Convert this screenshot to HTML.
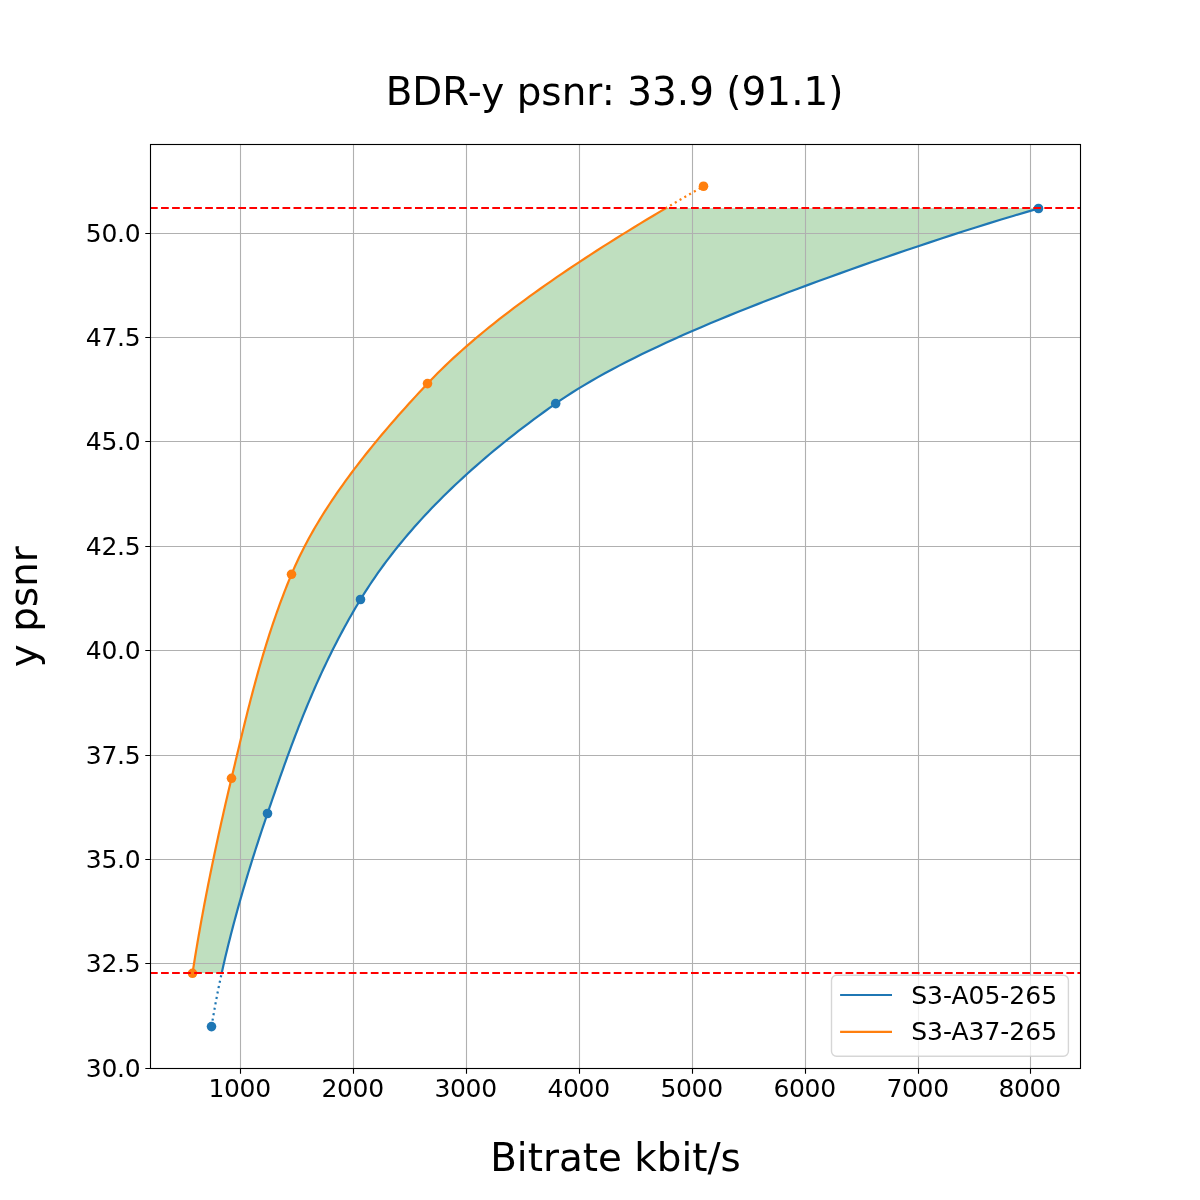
<!DOCTYPE html>
<html lang="en"><head><meta charset="utf-8"><title>BDR-y psnr</title>
<style>html,body{margin:0;padding:0;background:#fff}body{width:1200px;height:1200px;overflow:hidden}svg{display:block}text{font-family:"DejaVu Sans","Liberation Sans",sans-serif;fill:#000}</style></head><body>
<svg width="1200" height="1200" viewBox="0 0 1200 1200">
<rect width="1200" height="1200" fill="#fff"/>
<path d="M192.55 973.00 L193.14 969.16 L193.75 965.31 L194.36 961.47 L194.98 957.62 L195.61 953.78 L196.25 949.93 L196.89 946.09 L197.54 942.25 L198.20 938.40 L198.87 934.56 L199.55 930.71 L200.23 926.87 L200.92 923.03 L201.61 919.18 L202.32 915.34 L203.03 911.49 L203.75 907.65 L204.47 903.80 L205.21 899.96 L205.94 896.12 L206.69 892.27 L207.44 888.43 L208.20 884.58 L208.97 880.74 L209.74 876.89 L210.52 873.05 L211.30 869.21 L212.09 865.36 L212.89 861.52 L213.69 857.67 L214.50 853.83 L215.31 849.98 L216.13 846.14 L216.96 842.30 L217.79 838.45 L218.63 834.61 L219.47 830.76 L220.32 826.92 L221.18 823.08 L222.04 819.23 L222.90 815.39 L223.77 811.54 L224.65 807.70 L225.53 803.85 L226.41 800.01 L227.30 796.17 L228.20 792.32 L229.10 788.48 L230.00 784.63 L230.91 780.79 L231.82 776.94 L232.73 773.10 L233.65 769.26 L234.56 765.41 L235.47 761.57 L236.38 757.72 L237.30 753.88 L238.21 750.04 L239.13 746.19 L240.05 742.35 L240.97 738.50 L241.90 734.66 L242.84 730.81 L243.78 726.97 L244.72 723.13 L245.67 719.28 L246.63 715.44 L247.59 711.59 L248.56 707.75 L249.55 703.90 L250.54 700.06 L251.54 696.22 L252.55 692.37 L253.57 688.53 L254.60 684.68 L255.64 680.84 L256.70 676.99 L257.77 673.15 L258.85 669.31 L259.95 665.46 L261.06 661.62 L262.19 657.77 L263.33 653.93 L264.49 650.09 L265.67 646.24 L266.86 642.40 L268.07 638.55 L269.30 634.71 L270.55 630.86 L271.82 627.02 L273.11 623.18 L274.42 619.33 L275.75 615.49 L277.10 611.64 L278.48 607.80 L279.88 603.95 L281.30 600.11 L282.75 596.27 L284.22 592.42 L285.71 588.58 L287.23 584.73 L288.78 580.89 L290.36 577.05 L291.96 573.20 L293.61 569.36 L295.32 565.51 L297.08 561.67 L298.90 557.82 L300.77 553.98 L302.69 550.14 L304.66 546.29 L306.68 542.45 L308.76 538.60 L310.88 534.76 L313.06 530.91 L315.28 527.07 L317.55 523.23 L319.87 519.38 L322.24 515.54 L324.65 511.69 L327.11 507.85 L329.61 504.01 L332.16 500.16 L334.76 496.32 L337.39 492.47 L340.07 488.63 L342.79 484.78 L345.55 480.94 L348.36 477.10 L351.20 473.25 L354.08 469.41 L357.01 465.56 L359.97 461.72 L362.97 457.87 L366.00 454.03 L369.07 450.19 L372.18 446.34 L375.33 442.50 L378.51 438.65 L381.72 434.81 L384.97 430.96 L388.25 427.12 L391.56 423.28 L394.91 419.43 L398.28 415.59 L401.69 411.74 L405.12 407.90 L408.59 404.06 L412.08 400.21 L415.61 396.37 L419.16 392.52 L422.73 388.68 L426.34 384.83 L429.98 380.99 L433.70 377.15 L437.51 373.30 L441.40 369.46 L445.37 365.61 L449.41 361.77 L453.54 357.92 L457.75 354.08 L462.03 350.24 L466.39 346.39 L470.82 342.55 L475.33 338.70 L479.91 334.86 L484.57 331.02 L489.29 327.17 L494.09 323.33 L498.95 319.48 L503.89 315.64 L508.89 311.79 L513.96 307.95 L519.09 304.11 L524.29 300.26 L529.55 296.42 L534.88 292.57 L540.27 288.73 L545.72 284.88 L551.23 281.04 L556.80 277.20 L562.43 273.35 L568.11 269.51 L573.85 265.66 L579.65 261.82 L585.50 257.97 L591.40 254.13 L597.36 250.29 L603.37 246.44 L609.43 242.60 L615.54 238.75 L621.70 234.91 L627.91 231.07 L634.16 227.22 L640.46 223.38 L646.81 219.53 L653.20 215.69 L659.63 211.84 L666.11 208.00 L1040.11 208.00 L1026.90 211.84 L1013.89 215.69 L1001.17 219.53 L988.69 223.38 L976.42 227.22 L964.34 231.07 L952.42 234.91 L940.65 238.75 L929.01 242.60 L917.49 246.44 L906.08 250.29 L894.78 254.13 L883.59 257.97 L872.51 261.82 L861.52 265.66 L850.64 269.51 L839.86 273.35 L829.19 277.20 L818.63 281.04 L808.17 284.88 L797.83 288.73 L787.60 292.57 L777.49 296.42 L767.50 300.26 L757.63 304.11 L747.89 307.95 L738.28 311.79 L728.81 315.64 L719.47 319.48 L710.27 323.33 L701.21 327.17 L692.30 331.02 L683.54 334.86 L674.94 338.70 L666.48 342.55 L658.19 346.39 L650.06 350.24 L642.10 354.08 L634.31 357.92 L626.68 361.77 L619.23 365.61 L611.96 369.46 L604.87 373.30 L597.97 377.15 L591.25 380.99 L584.72 384.83 L578.38 388.68 L572.24 392.52 L566.30 396.37 L560.56 400.21 L555.02 404.06 L549.60 407.90 L544.25 411.74 L538.98 415.59 L533.76 419.43 L528.62 423.28 L523.55 427.12 L518.54 430.96 L513.60 434.81 L508.73 438.65 L503.92 442.50 L499.18 446.34 L494.50 450.19 L489.89 454.03 L485.35 457.87 L480.87 461.72 L476.46 465.56 L472.11 469.41 L467.82 473.25 L463.60 477.10 L459.44 480.94 L455.34 484.78 L451.31 488.63 L447.34 492.47 L443.43 496.32 L439.58 500.16 L435.79 504.01 L432.07 507.85 L428.40 511.69 L424.80 515.54 L421.26 519.38 L417.77 523.23 L414.35 527.07 L410.98 530.91 L407.67 534.76 L404.42 538.60 L401.23 542.45 L398.10 546.29 L395.03 550.14 L392.01 553.98 L389.05 557.82 L386.14 561.67 L383.29 565.51 L380.50 569.36 L377.76 573.20 L375.08 577.05 L372.45 580.89 L369.88 584.73 L367.36 588.58 L364.90 592.42 L362.49 596.27 L360.13 600.11 L357.81 603.95 L355.53 607.80 L353.28 611.64 L351.07 615.49 L348.88 619.33 L346.74 623.18 L344.62 627.02 L342.53 630.86 L340.47 634.71 L338.45 638.55 L336.45 642.40 L334.48 646.24 L332.54 650.09 L330.62 653.93 L328.74 657.77 L326.88 661.62 L325.04 665.46 L323.23 669.31 L321.44 673.15 L319.68 676.99 L317.94 680.84 L316.22 684.68 L314.53 688.53 L312.86 692.37 L311.20 696.22 L309.57 700.06 L307.95 703.90 L306.36 707.75 L304.78 711.59 L303.22 715.44 L301.68 719.28 L300.16 723.13 L298.64 726.97 L297.15 730.81 L295.67 734.66 L294.20 738.50 L292.75 742.35 L291.31 746.19 L289.88 750.04 L288.46 753.88 L287.06 757.72 L285.66 761.57 L284.27 765.41 L282.90 769.26 L281.53 773.10 L280.17 776.94 L278.81 780.79 L277.47 784.63 L276.13 788.48 L274.79 792.32 L273.46 796.17 L272.13 800.01 L270.81 803.85 L269.49 807.70 L268.17 811.54 L266.85 815.39 L265.55 819.23 L264.25 823.08 L262.96 826.92 L261.67 830.76 L260.40 834.61 L259.14 838.45 L257.88 842.30 L256.64 846.14 L255.40 849.98 L254.18 853.83 L252.96 857.67 L251.75 861.52 L250.56 865.36 L249.37 869.21 L248.19 873.05 L247.03 876.89 L245.87 880.74 L244.73 884.58 L243.59 888.43 L242.47 892.27 L241.36 896.12 L240.26 899.96 L239.17 903.80 L238.10 907.65 L237.03 911.49 L235.98 915.34 L234.94 919.18 L233.91 923.03 L232.89 926.87 L231.89 930.71 L230.90 934.56 L229.92 938.40 L228.95 942.25 L228.00 946.09 L227.06 949.93 L226.13 953.78 L225.22 957.62 L224.32 961.47 L223.43 965.31 L222.56 969.16 L221.70 973.00 Z" fill="#008000" fill-opacity="0.25"/>
<path d="M240.5 144.5V1068.5M353.5 144.5V1068.5M466.5 144.5V1068.5M579.5 144.5V1068.5M692.5 144.5V1068.5M805.5 144.5V1068.5M918.5 144.5V1068.5M1030.5 144.5V1068.5M150.5 233.5H1080.5M150.5 337.5H1080.5M150.5 441.5H1080.5M150.5 546.5H1080.5M150.5 650.5H1080.5M150.5 755.5H1080.5M150.5 859.5H1080.5M150.5 963.5H1080.5M150.5 1068.5H1080.5" stroke="#b0b0b0" stroke-width="1.11" fill="none"/>
<path d="M211.50 1026.60 L211.81 1024.75 L212.12 1022.90 L212.43 1021.06 L212.75 1019.21 L213.06 1017.36 L213.38 1015.51 L213.71 1013.66 L214.03 1011.81 L214.36 1009.97 L214.69 1008.12 L215.03 1006.27 L215.37 1004.42 L215.71 1002.57 L216.05 1000.72 L216.40 998.88 L216.75 997.03 L217.11 995.18 L217.47 993.33 L217.83 991.48 L218.20 989.63 L218.57 987.79 L218.95 985.94 L219.33 984.09 L219.71 982.24 L220.10 980.39 L220.49 978.54 L220.89 976.70 L221.29 974.85 L221.70 973.00" stroke="#1f77b4" stroke-width="2.2" fill="none" stroke-dasharray="2.083 3.437" stroke-dashoffset="-0.5"/>
<path d="M221.70 973.00 L222.56 969.16 L223.43 965.31 L224.32 961.47 L225.22 957.62 L226.13 953.78 L227.06 949.93 L228.00 946.09 L228.95 942.25 L229.92 938.40 L230.90 934.56 L231.89 930.71 L232.89 926.87 L233.91 923.03 L234.94 919.18 L235.98 915.34 L237.03 911.49 L238.10 907.65 L239.17 903.80 L240.26 899.96 L241.36 896.12 L242.47 892.27 L243.59 888.43 L244.73 884.58 L245.87 880.74 L247.03 876.89 L248.19 873.05 L249.37 869.21 L250.56 865.36 L251.75 861.52 L252.96 857.67 L254.18 853.83 L255.40 849.98 L256.64 846.14 L257.88 842.30 L259.14 838.45 L260.40 834.61 L261.67 830.76 L262.96 826.92 L264.25 823.08 L265.55 819.23 L266.85 815.39 L268.17 811.54 L269.49 807.70 L270.81 803.85 L272.13 800.01 L273.46 796.17 L274.79 792.32 L276.13 788.48 L277.47 784.63 L278.81 780.79 L280.17 776.94 L281.53 773.10 L282.90 769.26 L284.27 765.41 L285.66 761.57 L287.06 757.72 L288.46 753.88 L289.88 750.04 L291.31 746.19 L292.75 742.35 L294.20 738.50 L295.67 734.66 L297.15 730.81 L298.64 726.97 L300.16 723.13 L301.68 719.28 L303.22 715.44 L304.78 711.59 L306.36 707.75 L307.95 703.90 L309.57 700.06 L311.20 696.22 L312.86 692.37 L314.53 688.53 L316.22 684.68 L317.94 680.84 L319.68 676.99 L321.44 673.15 L323.23 669.31 L325.04 665.46 L326.88 661.62 L328.74 657.77 L330.62 653.93 L332.54 650.09 L334.48 646.24 L336.45 642.40 L338.45 638.55 L340.47 634.71 L342.53 630.86 L344.62 627.02 L346.74 623.18 L348.88 619.33 L351.07 615.49 L353.28 611.64 L355.53 607.80 L357.81 603.95 L360.13 600.11 L362.49 596.27 L364.90 592.42 L367.36 588.58 L369.88 584.73 L372.45 580.89 L375.08 577.05 L377.76 573.20 L380.50 569.36 L383.29 565.51 L386.14 561.67 L389.05 557.82 L392.01 553.98 L395.03 550.14 L398.10 546.29 L401.23 542.45 L404.42 538.60 L407.67 534.76 L410.98 530.91 L414.35 527.07 L417.77 523.23 L421.26 519.38 L424.80 515.54 L428.40 511.69 L432.07 507.85 L435.79 504.01 L439.58 500.16 L443.43 496.32 L447.34 492.47 L451.31 488.63 L455.34 484.78 L459.44 480.94 L463.60 477.10 L467.82 473.25 L472.11 469.41 L476.46 465.56 L480.87 461.72 L485.35 457.87 L489.89 454.03 L494.50 450.19 L499.18 446.34 L503.92 442.50 L508.73 438.65 L513.60 434.81 L518.54 430.96 L523.55 427.12 L528.62 423.28 L533.76 419.43 L538.98 415.59 L544.25 411.74 L549.60 407.90 L555.02 404.06 L560.56 400.21 L566.30 396.37 L572.24 392.52 L578.38 388.68 L584.72 384.83 L591.25 380.99 L597.97 377.15 L604.87 373.30 L611.96 369.46 L619.23 365.61 L626.68 361.77 L634.31 357.92 L642.10 354.08 L650.06 350.24 L658.19 346.39 L666.48 342.55 L674.94 338.70 L683.54 334.86 L692.30 331.02 L701.21 327.17 L710.27 323.33 L719.47 319.48 L728.81 315.64 L738.28 311.79 L747.89 307.95 L757.63 304.11 L767.50 300.26 L777.49 296.42 L787.60 292.57 L797.83 288.73 L808.17 284.88 L818.63 281.04 L829.19 277.20 L839.86 273.35 L850.64 269.51 L861.52 265.66 L872.51 261.82 L883.59 257.97 L894.78 254.13 L906.08 250.29 L917.49 246.44 L929.01 242.60 L940.65 238.75 L952.42 234.91 L964.34 231.07 L976.42 227.22 L988.69 223.38 L1001.17 219.53 L1013.89 215.69 L1026.90 211.84 L1040.11 208.00" stroke="#1f77b4" stroke-width="2.2" fill="none" stroke-linecap="square" stroke-linejoin="round"/>
<circle cx="211.5" cy="1026.6" r="4.8" fill="#1f77b4"/>
<circle cx="267.5" cy="813.5" r="4.8" fill="#1f77b4"/>
<circle cx="360.5" cy="599.5" r="4.8" fill="#1f77b4"/>
<circle cx="555.7" cy="403.6" r="4.8" fill="#1f77b4"/>
<circle cx="1038.5" cy="208.5" r="4.8" fill="#1f77b4"/>
<path d="M666.11 208.00 L667.38 207.25 L668.65 206.50 L669.92 205.75 L671.19 205.00 L672.46 204.25 L673.74 203.50 L675.02 202.75 L676.30 202.00 L677.58 201.25 L678.86 200.50 L680.14 199.75 L681.43 199.00 L682.72 198.25 L684.00 197.50 L685.29 196.75 L686.58 196.00 L687.88 195.25 L689.17 194.50 L690.47 193.75 L691.76 193.00 L693.06 192.25 L694.36 191.50 L695.66 190.75 L696.97 190.00 L698.27 189.25 L699.58 188.50 L700.88 187.75 L702.19 187.00 L703.50 186.25" stroke="#ff7f0e" stroke-width="2.2" fill="none" stroke-dasharray="2.083 3.437" stroke-dashoffset="0.9"/>
<path d="M192.55 973.00 L193.14 969.16 L193.75 965.31 L194.36 961.47 L194.98 957.62 L195.61 953.78 L196.25 949.93 L196.89 946.09 L197.54 942.25 L198.20 938.40 L198.87 934.56 L199.55 930.71 L200.23 926.87 L200.92 923.03 L201.61 919.18 L202.32 915.34 L203.03 911.49 L203.75 907.65 L204.47 903.80 L205.21 899.96 L205.94 896.12 L206.69 892.27 L207.44 888.43 L208.20 884.58 L208.97 880.74 L209.74 876.89 L210.52 873.05 L211.30 869.21 L212.09 865.36 L212.89 861.52 L213.69 857.67 L214.50 853.83 L215.31 849.98 L216.13 846.14 L216.96 842.30 L217.79 838.45 L218.63 834.61 L219.47 830.76 L220.32 826.92 L221.18 823.08 L222.04 819.23 L222.90 815.39 L223.77 811.54 L224.65 807.70 L225.53 803.85 L226.41 800.01 L227.30 796.17 L228.20 792.32 L229.10 788.48 L230.00 784.63 L230.91 780.79 L231.82 776.94 L232.73 773.10 L233.65 769.26 L234.56 765.41 L235.47 761.57 L236.38 757.72 L237.30 753.88 L238.21 750.04 L239.13 746.19 L240.05 742.35 L240.97 738.50 L241.90 734.66 L242.84 730.81 L243.78 726.97 L244.72 723.13 L245.67 719.28 L246.63 715.44 L247.59 711.59 L248.56 707.75 L249.55 703.90 L250.54 700.06 L251.54 696.22 L252.55 692.37 L253.57 688.53 L254.60 684.68 L255.64 680.84 L256.70 676.99 L257.77 673.15 L258.85 669.31 L259.95 665.46 L261.06 661.62 L262.19 657.77 L263.33 653.93 L264.49 650.09 L265.67 646.24 L266.86 642.40 L268.07 638.55 L269.30 634.71 L270.55 630.86 L271.82 627.02 L273.11 623.18 L274.42 619.33 L275.75 615.49 L277.10 611.64 L278.48 607.80 L279.88 603.95 L281.30 600.11 L282.75 596.27 L284.22 592.42 L285.71 588.58 L287.23 584.73 L288.78 580.89 L290.36 577.05 L291.96 573.20 L293.61 569.36 L295.32 565.51 L297.08 561.67 L298.90 557.82 L300.77 553.98 L302.69 550.14 L304.66 546.29 L306.68 542.45 L308.76 538.60 L310.88 534.76 L313.06 530.91 L315.28 527.07 L317.55 523.23 L319.87 519.38 L322.24 515.54 L324.65 511.69 L327.11 507.85 L329.61 504.01 L332.16 500.16 L334.76 496.32 L337.39 492.47 L340.07 488.63 L342.79 484.78 L345.55 480.94 L348.36 477.10 L351.20 473.25 L354.08 469.41 L357.01 465.56 L359.97 461.72 L362.97 457.87 L366.00 454.03 L369.07 450.19 L372.18 446.34 L375.33 442.50 L378.51 438.65 L381.72 434.81 L384.97 430.96 L388.25 427.12 L391.56 423.28 L394.91 419.43 L398.28 415.59 L401.69 411.74 L405.12 407.90 L408.59 404.06 L412.08 400.21 L415.61 396.37 L419.16 392.52 L422.73 388.68 L426.34 384.83 L429.98 380.99 L433.70 377.15 L437.51 373.30 L441.40 369.46 L445.37 365.61 L449.41 361.77 L453.54 357.92 L457.75 354.08 L462.03 350.24 L466.39 346.39 L470.82 342.55 L475.33 338.70 L479.91 334.86 L484.57 331.02 L489.29 327.17 L494.09 323.33 L498.95 319.48 L503.89 315.64 L508.89 311.79 L513.96 307.95 L519.09 304.11 L524.29 300.26 L529.55 296.42 L534.88 292.57 L540.27 288.73 L545.72 284.88 L551.23 281.04 L556.80 277.20 L562.43 273.35 L568.11 269.51 L573.85 265.66 L579.65 261.82 L585.50 257.97 L591.40 254.13 L597.36 250.29 L603.37 246.44 L609.43 242.60 L615.54 238.75 L621.70 234.91 L627.91 231.07 L634.16 227.22 L640.46 223.38 L646.81 219.53 L653.20 215.69 L659.63 211.84 L666.11 208.00" stroke="#ff7f0e" stroke-width="2.2" fill="none" stroke-linecap="square" stroke-linejoin="round"/>
<circle cx="192.5" cy="973.3" r="4.8" fill="#ff7f0e"/>
<circle cx="231.5" cy="778.3" r="4.8" fill="#ff7f0e"/>
<circle cx="291.5" cy="574.3" r="4.8" fill="#ff7f0e"/>
<circle cx="427.5" cy="383.6" r="4.8" fill="#ff7f0e"/>
<circle cx="703.5" cy="186.25" r="4.8" fill="#ff7f0e"/>
<path d="M150 973.0H1081" stroke="#ff0000" stroke-width="2.2" stroke-dasharray="7.708 3.333" fill="none"/>
<path d="M150 208.0H1081" stroke="#ff0000" stroke-width="2.2" stroke-dasharray="7.708 3.333" fill="none"/>
<rect x="150.5" y="144.5" width="930.0" height="924.0" fill="none" stroke="#000" stroke-width="1.11"/>
<path d="M240.5 1068.5v5.2M353.5 1068.5v5.2M466.5 1068.5v5.2M579.5 1068.5v5.2M692.5 1068.5v5.2M805.5 1068.5v5.2M918.5 1068.5v5.2M1030.5 1068.5v5.2M150.5 233.5h-5.2M150.5 337.5h-5.2M150.5 441.5h-5.2M150.5 546.5h-5.2M150.5 650.5h-5.2M150.5 755.5h-5.2M150.5 859.5h-5.2M150.5 963.5h-5.2M150.5 1068.5h-5.2" stroke="#000" stroke-width="1.11" fill="none"/>
<g font-size="25px">
<text x="239.6" y="1097" text-anchor="middle" letter-spacing="-0.3">1000</text>
<text x="352.6" y="1097" text-anchor="middle" letter-spacing="-0.3">2000</text>
<text x="465.6" y="1097" text-anchor="middle" letter-spacing="-0.3">3000</text>
<text x="578.6" y="1097" text-anchor="middle" letter-spacing="-0.3">4000</text>
<text x="691.6" y="1097" text-anchor="middle" letter-spacing="-0.3">5000</text>
<text x="804.6" y="1097" text-anchor="middle" letter-spacing="-0.3">6000</text>
<text x="917.6" y="1097" text-anchor="middle" letter-spacing="-0.3">7000</text>
<text x="1029.6" y="1097" text-anchor="middle" letter-spacing="-0.3">8000</text>
<text x="140.3" y="242.1" text-anchor="end" letter-spacing="-0.3">50.0</text>
<text x="140.3" y="346.1" text-anchor="end" letter-spacing="-0.3">47.5</text>
<text x="140.3" y="450.1" text-anchor="end" letter-spacing="-0.3">45.0</text>
<text x="140.3" y="555.1" text-anchor="end" letter-spacing="-0.3">42.5</text>
<text x="140.3" y="659.1" text-anchor="end" letter-spacing="-0.3">40.0</text>
<text x="140.3" y="764.1" text-anchor="end" letter-spacing="-0.3">37.5</text>
<text x="140.3" y="868.1" text-anchor="end" letter-spacing="-0.3">35.0</text>
<text x="140.3" y="972.1" text-anchor="end" letter-spacing="-0.3">32.5</text>
<text x="140.3" y="1077.1" text-anchor="end" letter-spacing="-0.3">30.0</text>
</g>
<g font-size="38.89px" text-anchor="middle">
<text x="614.6" y="104.8" letter-spacing="0.045">BDR-y psnr: 33.9 (91.1)</text>
<text x="615.5" y="1170.7">Bitrate kbit/s</text>
<text transform="translate(37 606.7) rotate(-90)">y psnr</text>
</g>
<rect x="831.5" y="975.3" width="236.9" height="80.9" rx="5" ry="5" fill="#fff" fill-opacity="0.8" stroke="#ccc" stroke-opacity="0.8" stroke-width="1.39"/>
<path d="M841.2 995H890.9" stroke="#1f77b4" stroke-width="2.2" stroke-linecap="square"/>
<path d="M841.2 1031.8H890.9" stroke="#ff7f0e" stroke-width="2.2" stroke-linecap="square"/>
<g font-size="25px"><text x="911.2" y="1003.6">S3-A05-265</text><text x="911.2" y="1040.1">S3-A37-265</text></g>
</svg></body></html>
